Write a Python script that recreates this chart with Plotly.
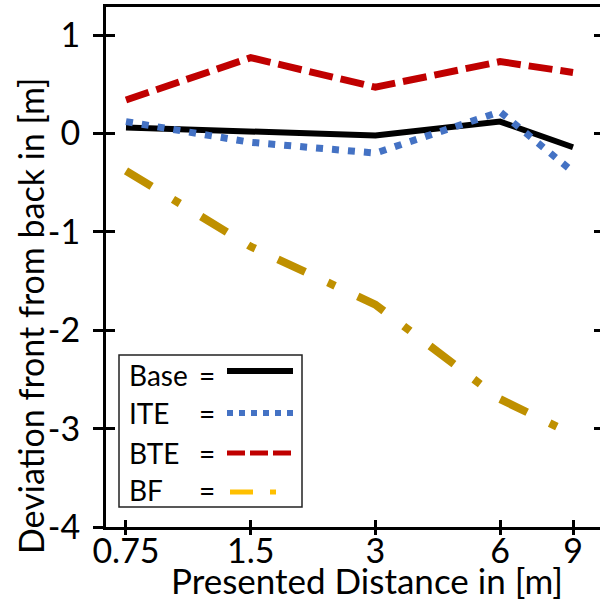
import plotly.graph_objects as go

# Presented distances (m) and the tick labels on the x axis
distances = [0.75, 1.5, 3, 6, 9]
x_tick_text = ["0.75", "1.5", "3", "6", "9"]

# Mean deviation of front vs back estimate (m) per condition
base = [0.06, 0.02, -0.02, 0.12, -0.14]
ite = [0.12, -0.09, -0.20, 0.22, -0.39]
bte = [0.34, 0.77, 0.47, 0.73, 0.62]
bf = [-0.38, -1.15, -1.74, -2.70, -3.06]

y_tick_vals = [1, 0, -1, -2, -3, -4]
y_tick_text = ["1", "0", "-1", "-2", "-3", "-4"]

FONT = "Lato"
W, H = 600, 608
L, R, T, B = 106, 0, 7, 81
PW, PH = W - L - R, H - T - B


def px(x):
    return (x - L) / PW


def py(y):
    return (H - B - y) / PH


X_RANGE = [-0.1732, 1.0194]
Y_RANGE = [-4, 1.285]

series = [
    ("Base", base, dict(color="#000000", width=6, dash="solid")),
    ("ITE", ite, dict(color="#4472C4", width=7, dash="7px,9px")),
    ("BTE", bte, dict(color="#C00000", width=7, dash="24px,8px")),
    ("BF", bf, dict(color="#BF9000", width=8, dash="30px,25px,8px,25px")),
]

fig = go.Figure()
for name, vals, line in series:
    fig.add_trace(go.Scatter(x=distances, y=vals, mode="lines", name=name,
                             line=line, showlegend=False))

fig.update_layout(
    width=W, height=H,
    margin=dict(l=L, r=R, t=T, b=B, pad=0),
    paper_bgcolor="white", plot_bgcolor="white",
    font=dict(family=FONT, color="#000000"),
    xaxis=dict(type="log", range=X_RANGE, tickvals=distances, ticktext=x_tick_text,
               ticks="outside", ticklen=5, tickwidth=3, tickcolor="black",
               showline=True, linewidth=3, linecolor="black", mirror=True,
               showgrid=False, zeroline=False, tickfont=dict(size=34),
               ticklabelstandoff=-13),
    xaxis2=dict(type="log", range=X_RANGE, overlaying="x", anchor="y", side="bottom",
                tickvals=distances, ticks="inside", ticklen=7, tickwidth=3,
                tickcolor="black", showticklabels=False, showline=False,
                showgrid=False, zeroline=False),
    yaxis=dict(range=Y_RANGE, tickvals=y_tick_vals, ticktext=y_tick_text,
               ticks="outside", ticklen=10, tickwidth=3, tickcolor="black",
               showline=True, linewidth=3, linecolor="black",
               showgrid=False, zeroline=False, tickfont=dict(size=34),
               ticklabelstandoff=6),
    yaxis2=dict(range=Y_RANGE, overlaying="y", anchor="x", side="left",
                tickvals=y_tick_vals, ticks="inside", ticklen=9, tickwidth=3,
                tickcolor="black", showticklabels=False, showline=False,
                showgrid=False, zeroline=False),
    yaxis3=dict(range=Y_RANGE, overlaying="y", anchor="x", side="right",
                tickvals=y_tick_vals, ticks="inside", ticklen=6, tickwidth=3,
                tickcolor="black", showticklabels=False, showline=False,
                showgrid=False, zeroline=False),
)

# invisible carriers so the overlay axes are rendered
fig.add_trace(go.Scatter(x=[distances[0]], y=[0], xaxis="x2", yaxis="y2",
                         mode="markers", marker=dict(opacity=0), showlegend=False,
                         hoverinfo="skip"))
fig.add_trace(go.Scatter(x=[distances[0]], y=[0], xaxis="x2", yaxis="y3",
                         mode="markers", marker=dict(opacity=0), showlegend=False,
                         hoverinfo="skip"))

# axis titles
fig.add_annotation(text="Deviation front from back in [m]", textangle=-90,
                   xref="paper", yref="paper", x=px(30), y=py(316),
                   xanchor="center", yanchor="middle", showarrow=False,
                   font=dict(size=34))
fig.add_annotation(text="Presented Distance in [m]",
                   xref="paper", yref="paper", x=px(367), y=py(580),
                   xanchor="center", yanchor="middle", showarrow=False,
                   font=dict(size=35))

# key box
fig.add_shape(type="rect", xref="paper", yref="paper",
              x0=px(119), x1=px(302), y0=py(507), y1=py(355),
              line=dict(color="#222222", width=1.5), fillcolor="white", layer="above")

key_rows = [
    ("Base", 375, 371, dict(color="#000000", width=6, dash="solid"), 227, 293),
    ("ITE", 413, 413, dict(color="#4472C4", width=6, dash="6px,6px"), 227, 293),
    ("BTE", 453, 453, dict(color="#C00000", width=5, dash="18px,5px"), 227, 293),
    ("BF", 490, 492, dict(color="#FFC000", width=5, dash="23px,17px,6px,30px"), 230, 276),
]
for label, ty, ly, line, x0, x1 in key_rows:
    fig.add_annotation(text=label, xref="paper", yref="paper", x=px(127), y=py(ty),
                       xanchor="left", yanchor="middle", showarrow=False,
                       font=dict(size=28))
    fig.add_annotation(text="=", xref="paper", yref="paper", x=px(207), y=py(ty),
                       xanchor="center", yanchor="middle", showarrow=False,
                       font=dict(size=28))
    fig.add_shape(type="line", xref="paper", yref="paper",
                  x0=px(x0), x1=px(x1), y0=py(ly), y1=py(ly), line=line, layer="above")

fig.write_html("out.html")
